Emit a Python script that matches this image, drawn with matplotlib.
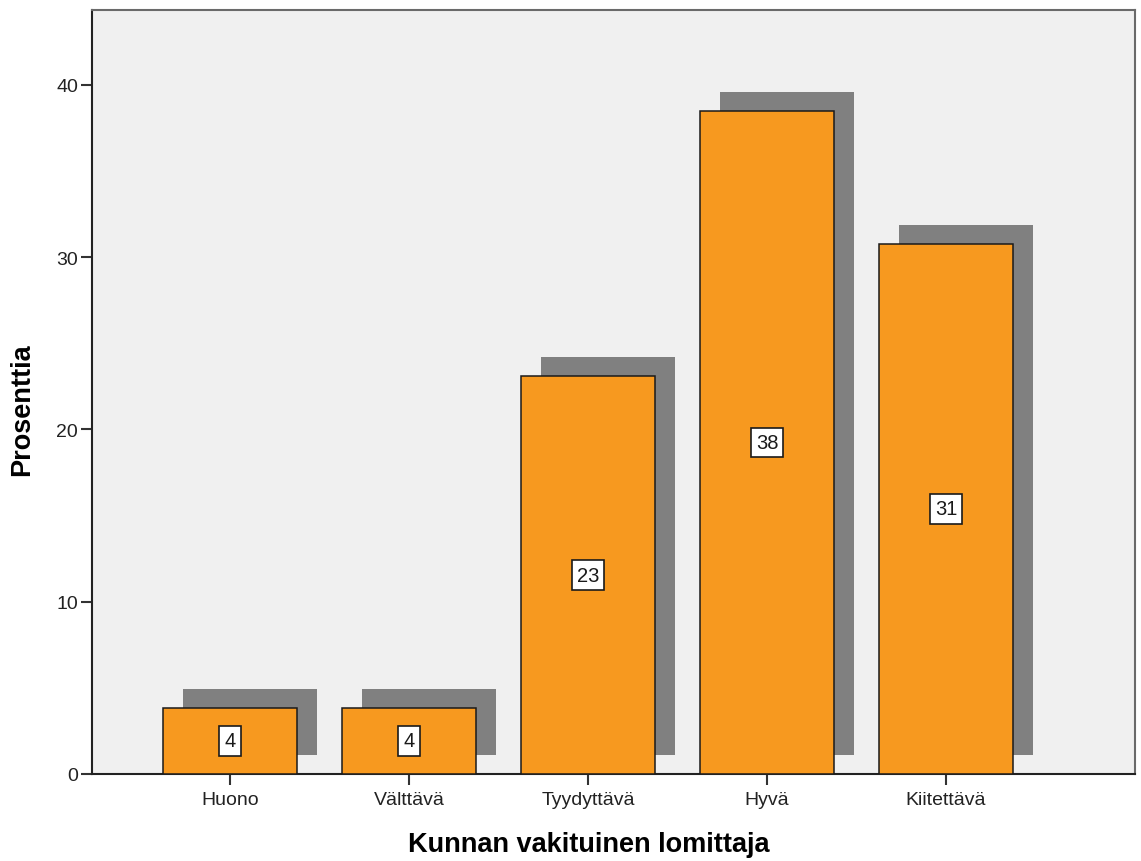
import matplotlib
matplotlib.use("Agg")
import matplotlib.pyplot as plt
import matplotlib.patheffects as pe
import numpy as np

categories = ["Huono", "Välttävä", "Tyydyttävä", "Hyvä", "Kiitettävä"]
percent = [3.85, 3.85, 23.08, 38.46, 30.77]
labels = ["4", "4", "23", "38", "31"]
yticks = [0, 10, 20, 30, 40]

plt.rcParams['font.family'] = ['Liberation Sans', 'DejaVu Sans']

W, H = 1141, 862
fig = plt.figure(figsize=(W / 100, H / 100), dpi=100)
ax_l, ax_r, ax_t, ax_b = 92, 1135, 11, 775
ax = fig.add_axes([ax_l / W, 1 - ax_b / H, (ax_r - ax_l) / W, (ax_b - ax_t) / H])
ax.set_facecolor('#F0F0F0')

x = np.arange(len(categories))
shadow = [pe.SimplePatchShadow(offset=(14.4, 13.8), shadow_rgbFace='#808080', alpha=1.0),
          pe.Normal()]
bars = ax.bar(x, percent, width=0.75, color='#F7991F', edgecolor='#1a1a1a',
              linewidth=1.1, zorder=3)
for b in bars:
    b.set_path_effects(shadow)

for xi, v, lab in zip(x, percent, labels):
    ax.text(xi, v / 2, lab, ha='center', va='center', fontsize=14.5, zorder=5,
            color='#1a1a1a',
            bbox=dict(boxstyle='square,pad=0.26', facecolor='white',
                      edgecolor='#1a1a1a', linewidth=1.2))

ax.set_xlim(-0.771, 5.056)
ax.set_ylim(0, 44.35)
ax.set_xticks(x)
ax.set_xticklabels(categories, fontsize=14)
ax.set_yticks(yticks)
ax.set_yticklabels([str(t) for t in yticks], fontsize=14)
ax.tick_params(axis='both', direction='out', length=8, width=1.5, color='#333333',
               labelcolor='#222222')
ax.tick_params(axis='x', pad=4)
ax.tick_params(axis='y', pad=2)

for s in ['left', 'bottom']:
    ax.spines[s].set_color('#222222')
    ax.spines[s].set_linewidth(1.5)
for s in ['top', 'right']:
    ax.spines[s].set_color('#6a6a6a')
    ax.spines[s].set_linewidth(1.5)

ax.set_xlabel('Kunnan vakituinen lomittaja', fontsize=19.5, fontweight='bold')
ax.xaxis.set_label_coords((589 - ax_l) / (ax_r - ax_l), (ax_b - 845) / (ax_b - ax_t))
ax.xaxis.label.set_va('center')
ax.set_ylabel('Prosenttia', fontsize=19.5, fontweight='bold')
ax.yaxis.set_label_coords((22 - ax_l) / (ax_r - ax_l), (ax_b - 410) / (ax_b - ax_t))
ax.yaxis.label.set_va('center')

fig.savefig('out.png', dpi=100)
